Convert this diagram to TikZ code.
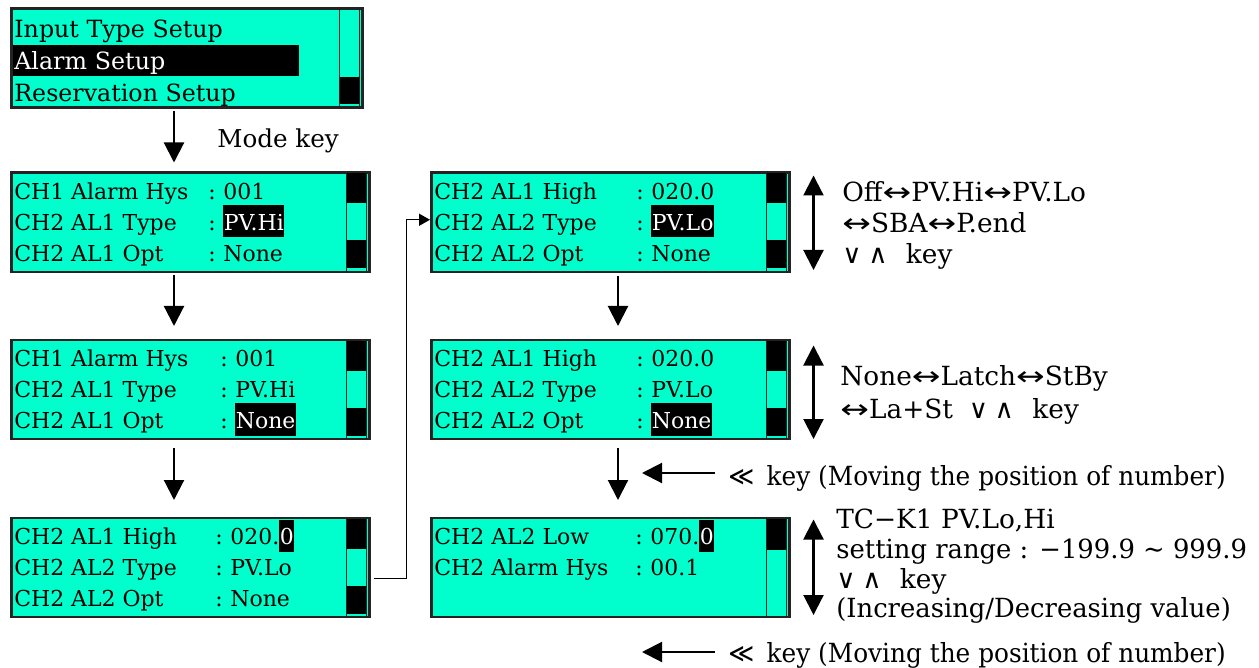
\documentclass[tikz,border=0pt]{standalone}
\usepackage{fontspec}
\setmainfont{DejaVu Serif}
\newfontfamily\keyfont{DejaVu Sans}
\usepackage{graphicx}
\usepackage{tikz}
\usetikzlibrary{arrows.meta,calc,positioning}
\definecolor{LcdGreen}{RGB}{0,255,204}
\definecolor{FrameGray}{RGB}{35,35,35}
\newcommand{\lrarr}{{\keyfont\scalebox{1.3}[1]{↔}}}
\newcommand{\updn}{{\keyfont ∨\hspace{0.25em}∧}\hspace{0.7em}}
\newcommand{\hlbox}[1]{{\setlength{\fboxsep}{0pt}\colorbox{black}{\rule[-1.4mm]{0pt}{6.4mm}\hspace{0.1mm}\textcolor{white}{#1}\hspace{0.1mm}}}}
% one line of a display: label, colon and value
\newcommand{\lcdrow}[6]{%
  \node[lcd] (#2) at ($(#1.north west)+(4,#3)$) {#4};
  \node[lcd] (#2c) at ($(#1.north west)+(#5,#3)$) {:};
  \node[lcd] (#2v) at ($(#2c.base west)+(15,0)$) {#6};}

\begin{document}
\begin{tikzpicture}[x=0.2mm,y=-0.2mm,>={Triangle[length=4mm,width=4mm]},
    screen/.style={draw=FrameGray,line width=0.5mm,fill=LcdGreen,inner sep=0pt,
      minimum width=7.16cm,minimum height=1.98cm,anchor=north west},
    lcd/.style={anchor=base west,inner sep=0pt,font=\fontsize{12.5}{15}\selectfont},
    menu/.style={lcd,font=\fontsize{13.5}{16}\selectfont},
    note/.style={anchor=base west,inner sep=0pt,font=\fontsize{15}{18}\selectfont},
    flow/.style={->,line width=1.2pt},
    updown/.style={<->,line width=1.2pt},
    barline/.style={FrameGray,line width=0.25mm}]
  \useasboundingbox (0,0) rectangle (1259,668);

  % displays
  \node[screen,minimum width=7.02cm] (b0) at (10,7.5) {};
  \node[screen] (b1) at (10,171.5) {};
  \node[screen] (b2) at (10,338.5) {};
  \node[screen] (b3) at (10,516.5) {};
  \node[screen] (b4) at (430,171.5) {};
  \node[screen] (b5) at (430,338.5) {};
  \node[screen] (b6) at (430,516.5) {};

  % scroll bars
  \foreach \s in {b0,b1,b2,b3,b4,b5,b6}{
    \draw[barline] ($(\s.north east)+(-24,0)$) -- ($(\s.south east)+(-24,0)$);
    \draw[barline] ($(\s.north east)+(-4,0)$) -- ($(\s.south east)+(-4,0)$);
  }
  \foreach \s/\ya/\yb in {b1/2/32,b2/2/32,b3/2/32,b4/2/32,b5/2/32,b6/2/33,
      b0/70/97,b1/69/97,b2/69/97,b3/69/97,b4/69/97,b5/69/97}
    \fill ($(\s.north east)+(-24,\ya)$) rectangle ($(\s.north east)+(-5,\yb)$);

  % menu
  \node[menu] (m1) at ($(b0.north west)+(4,30)$) {Input Type Setup};
  \node[menu,fill=black,text=white,inner xsep=0.2mm,text width=5.68cm,
    text height=4.9mm,text depth=1.3mm] (m2) at ($(b0.north west)+(3,62)$) {Alarm Setup};
  \node[menu] (m3) at ($(b0.north west)+(4,94)$) {Reservation Setup};

  \lcdrow{b1}{p1}{28}{CH1 Alarm Hys}{198}{001}
  \lcdrow{b1}{p2}{59}{CH2 AL1 Type}{198}{\hlbox{PV.Hi}}
  \lcdrow{b1}{p3}{90}{CH2 AL1 Opt}{198}{None}
  \lcdrow{b2}{q1}{28}{CH1 Alarm Hys}{210}{001}
  \lcdrow{b2}{q2}{59}{CH2 AL1 Type}{210}{PV.Hi}
  \lcdrow{b2}{q3}{90}{CH2 AL1 Opt}{210}{\hlbox{None}}
  \lcdrow{b3}{s1}{28}{CH2 AL1 High}{205}{020.\hlbox{0}}
  \lcdrow{b3}{s2}{59}{CH2 AL2 Type}{205}{PV.Lo}
  \lcdrow{b3}{s3}{90}{CH2 AL2 Opt}{205}{None}
  \lcdrow{b4}{u1}{28}{CH2 AL1 High}{206}{020.0}
  \lcdrow{b4}{u2}{59}{CH2 AL2 Type}{206}{\hlbox{PV.Lo}}
  \lcdrow{b4}{u3}{90}{CH2 AL2 Opt}{206}{None}
  \lcdrow{b5}{v1}{28}{CH2 AL1 High}{206}{020.0}
  \lcdrow{b5}{v2}{59}{CH2 AL2 Type}{206}{PV.Lo}
  \lcdrow{b5}{v3}{90}{CH2 AL2 Opt}{206}{\hlbox{None}}
  \lcdrow{b6}{w1}{28}{CH2 AL2 Low}{205}{070.\hlbox{0}}
  \lcdrow{b6}{w2}{59}{CH2 Alarm Hys}{205}{00.1}

  % flow between displays
  \coordinate (colL) at (174,0);
  \coordinate (colR) at (618,0);
  \draw[flow,shorten <=0.4mm,shorten >=1.8mm] (b0.south -| colL) -- (b1.north -| colL);
  \draw[flow,shorten <=0.4mm,shorten >=2.5mm] (b1.south -| colL) -- (b2.north -| colL);
  \draw[flow,shorten <=1.6mm,shorten >=3.3mm] (b2.south -| colL) -- (b3.north -| colL);
  \draw[flow,shorten <=0.6mm,shorten >=2.5mm] (b4.south -| colR) -- (b5.north -| colR);
  \draw[flow,shorten <=1.6mm,shorten >=3.3mm] (b5.south -| colR) -- (b6.north -| colR);
  \draw[line width=0.3mm,-{Triangle[length=2.2mm,width=2.4mm]}]
    ($(b3.east)+(3,11)$) -- ++(33,0) |- ($(b4.west)+(0,-2.5)$);
  \node[note,font=\fontsize{14}{17}\selectfont] (mk) at (217,148) {Mode key};

  % keys on the right
  \draw[updown] ($(b4.north east)+(23,4)$) -- ($(b4.south east)+(23,-3)$);
  \draw[updown] ($(b5.north east)+(23,7)$) -- ($(b5.south east)+(23,-1)$);
  \draw[updown] ($(b6.north east)+(23,3)$) -- ($(b6.south east)+(23,-3)$);
  \node[note] (o1) at (842,202) {Off\lrarr PV.Hi\lrarr PV.Lo};
  \node[note] (o2) at (842,233) {\lrarr SBA\lrarr P.end};
  \node[note] (o3) at (842,264) {\updn key};
  \node[note] (n1) at (840,385) {None\lrarr Latch\lrarr StBy};
  \node[note] (n2) at (840,418) {\lrarr La+St\hspace{0.6em}\updn key};
  \node[note] (t1) at (836,528) {TC−K1 PV.Lo,Hi};
  \node[note] (t2) at (836,558) {\scalebox{0.98}[1]{setting range : −199.9 \textasciitilde{} 999.9}};
  \node[note] (t3) at (836,588) {\updn key};
  \node[note] (t4) at (836,617) {\scalebox{0.98}[1]{(Increasing/Decreasing value)}};
  \node[note] (k1) at (728,485) {\scalebox{0.94}[1]{{\keyfont ≪}\hspace{0.5em}key (Moving the position of number)}};
  \node[note] (k2) at (728,662) {\scalebox{0.94}[1]{{\keyfont ≪}\hspace{0.5em}key (Moving the position of number)}};
  \draw[flow] ($(k1.base west)+(-13,-12)$) -- ($(k1.base west)+(-86,-12)$);
  \draw[flow] ($(k2.base west)+(-13,-10)$) -- ($(k2.base west)+(-86,-10)$);
\end{tikzpicture}
\end{document}
